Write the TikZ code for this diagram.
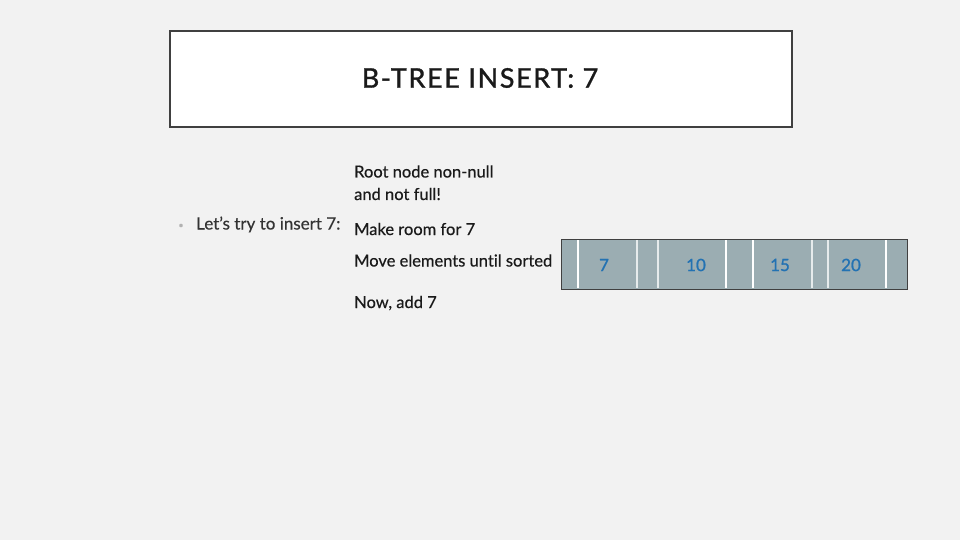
\documentclass[tikz,border=0pt]{standalone}
\usepackage{fontspec}
\setmainfont[Ligatures=NoCommon,FakeBold=0.4]{Lato}
\newfontfamily\titlefont[LetterSpace=6,FakeBold=1.2]{Lato}
\newfontfamily\keyfont[FakeBold=1.1]{Lato}
\definecolor{slidebg}{HTML}{F2F2F2}
\definecolor{frameline}{HTML}{404040}
\definecolor{cellfill}{HTML}{9BADB2}
\definecolor{keyblue}{HTML}{2372B2}
\definecolor{bodytext}{HTML}{1A1A1A}
\definecolor{bullettext}{HTML}{333333}
\tikzset{
  line/.style={anchor=base west,inner sep=0pt,text=bodytext,font=\fontsize{16.5}{19}\selectfont},
  key/.style={inner sep=0pt,text=keyblue,font=\keyfont\fontsize{17}{20}\selectfont},
  sep/.style={white,line width=1.4pt},
  faint/.style={white!75!cellfill,line width=1.2pt}
}
\begin{document}
\begin{tikzpicture}[x=1pt,y=-1pt]
  \useasboundingbox[fill=slidebg] (0,0) rectangle (960,540);
  \draw[frameline,line width=2pt,fill=white] (170,31) rectangle (792,127);
  \node (title) at (480,78) {\titlefont\fontsize{27}{32}\selectfont\color{bodytext}B-TREE INSERT: 7};
  \node (dot) at (181,226) {\textcolor{gray!60}{\fontsize{9}{9}\selectfont\textbullet}};
  \node[line,text=bullettext,font=\fontsize{17}{20}\selectfont] (try) at (196,229.5) {Let’s try to insert 7:};
  \node[line] (root) at (354,177.5) {Root node non-null};
  \node[line] (notfull) at (354,200) {and not full!};
  \node[line] (room) at (354,235) {Make room for 7};
  \node[line] (move) at (354,266.5) {Move elements until sorted};
  \node[line] (add) at (354,308) {Now, add 7};
  \draw[frameline,fill=cellfill] (561,239) rectangle (907,289);
  \draw[sep] (578,240) -- (578,288);
  \draw[faint] (637,240) -- (637,288);
  \draw[faint] (658,240) -- (658,288);
  \draw[sep] (726,240) -- (726,288);
  \draw[sep] (753,240) -- (753,288);
  \draw[faint] (812,240) -- (812,288);
  \draw[faint] (828,240) -- (828,288);
  \draw[sep] (886,240) -- (886,288);
  \node[key] (k7) at (604,265) {7};
  \node[key] (k10) at (696,265) {10};
  \node[key] (k15) at (780,265) {15};
  \node[key] (k20) at (851,265) {20};
\end{tikzpicture}
\end{document}
